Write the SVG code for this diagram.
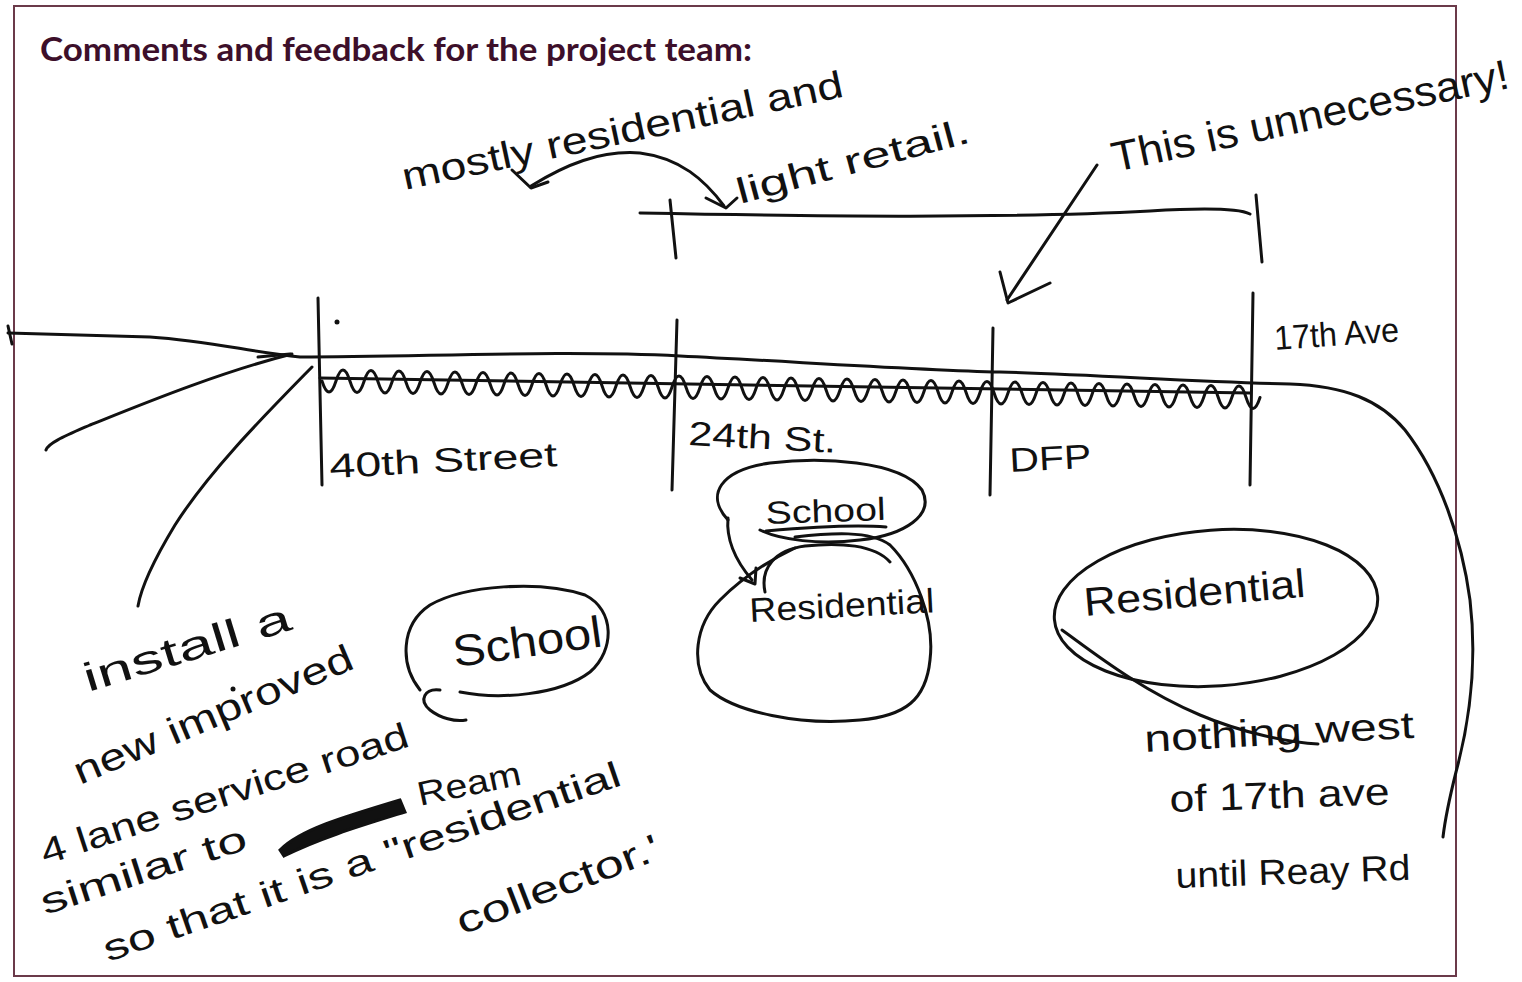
<svg xmlns="http://www.w3.org/2000/svg" width="1522" height="982" viewBox="0 0 1522 982">
<style>
.ink{fill:none;stroke:#111;stroke-width:3;stroke-linecap:round;stroke-linejoin:round}
.hw{font-family:"Liberation Sans","DejaVu Sans",sans-serif;fill:#111}
.title{font-family:Lato,"Open Sans","Liberation Sans",sans-serif;font-weight:bold;font-size:33px;fill:#3d0f2a}
</style>
<rect x="0" y="0" width="1522" height="982" fill="#ffffff"/>
<rect x="14" y="6" width="1442" height="970" fill="none" stroke="#6b3a4a" stroke-width="2"/>
<text class="title" x="40" y="61" textLength="712" lengthAdjust="spacingAndGlyphs">Comments and feedback for the project team:</text>

<g id="connectors">
  <!-- road line -->
  <path class="ink" d="M8,333 L150,337 C210,341 250,352 300,357 C420,357 560,350 680,356 C800,362 920,370 1000,372 C1100,375 1200,382 1290,384 C1345,386 1380,400 1405,430 C1440,475 1462,540 1470,600 C1477,660 1470,720 1456,772 C1449,800 1445,820 1443,837"/>
  <path class="ink" d="M8,326 L12,344"/>
  <!-- squiggle under road -->
  <path class="ink" stroke-width="2.6" d="M320,378 L1250,393"/>
  <path class="ink" stroke-width="2.8" d="M322,381 q7,22 14,0 t14,0.25 t14,0.25 t14,0.25 t14,0.25 t14,0.25 t14,0.25 t14,0.25 t14,0.25 t14,0.25 t14,0.25 t14,0.25 t14,0.25 t14,0.25 t14,0.25 t14,0.25 t14,0.25 t14,0.25 t14,0.25 t14,0.25 t14,0.25 t14,0.25 t14,0.25 t14,0.25 t14,0.25 t14,0.25 t14,0.25 t14,0.25 t14,0.25 t14,0.25 t14,0.25 t14,0.25 t14,0.25 t14,0.25 t14,0.25 t14,0.25 t14,0.25 t14,0.25 t14,0.25 t14,0.25 t14,0.25 t14,0.25 t14,0.25 t14,0.25 t14,0.25 t14,0.25 t14,0.25 t14,0.25 t14,0.25 t14,0.25 t14,0.25 t14,0.25 t14,0.25 t14,0.25 t14,0.25 t14,0.25 t14,0.25 t14,0.25 t14,0.25 t14,0.25 t14,0.25 t14,0.25 t14,0.25 t14,0.25 t14,0.25 t14,0.25 t14,0.25"/>
  <!-- cross streets -->
  <path class="ink" d="M318,298 L322,485"/>
  <path class="ink" d="M677,320 L672,490"/>
  <path class="ink" d="M993,328 L990,495"/>
  <path class="ink" d="M1253,293 L1250,485"/>
  <!-- top bracket -->
  <path class="ink" d="M640,213 C800,216 1000,219 1150,211 C1200,208 1238,208 1250,214"/>
  <path class="ink" d="M670,200 L676,258"/>
  <path class="ink" d="M1256,195 L1262,262"/>
  <!-- mostly residential arrows -->
  <path class="ink" d="M531,186 C565,165 600,150 640,153 C680,158 705,180 724,206"/>
  <path class="ink" d="M512,170 L531,188 L548,182"/>
  <path class="ink" d="M706,198 L726,208 L737,198"/>
  <!-- this is unnecessary arrow -->
  <path class="ink" d="M1097,165 L1007,300"/>
  <path class="ink" d="M1000,272 L1008,303 L1050,283"/>
  <!-- left arrows -->
  <path class="ink" d="M292,354 C220,372 140,405 90,425 C65,436 48,443 46,450"/>
  <path class="ink" stroke-width="5" d="M258,357 L290,354"/>
  <path class="ink" d="M312,367 C265,415 210,470 175,525 C152,563 141,588 138,606"/>
  <circle cx="337" cy="322" r="2.5" fill="#111"/>
  <circle cx="233" cy="689" r="2.5" fill="#111"/>
  <!-- middle school to residential arrow -->
  <path class="ink" d="M728,518 C726,540 735,560 752,580"/>
  <path class="ink" d="M740,578 L755,584 L756,568"/>
  <!-- right residential tail -->
  <path class="ink" d="M1062,630 C1090,650 1140,690 1200,715 C1240,732 1290,743 1318,744"/>
</g>

<g id="node-school-left">
  <path class="ink" d="M420,690 C400,665 400,625 430,605 C465,585 540,580 585,595 C615,610 615,650 590,672 C560,695 500,700 460,692"/>
  <path class="ink" d="M440,690 C425,688 418,700 430,710 C440,718 455,722 466,720"/>
  <text class="hw" font-size="44" transform="translate(455,667) rotate(-8)" textLength="150" lengthAdjust="spacingAndGlyphs">School</text>
</g>

<g id="node-school-mid">
  <path class="ink" d="M728,520 C705,495 720,470 770,463 C820,457 900,460 922,490 C935,515 905,535 860,540 C820,545 780,540 760,530"/>
  <text class="hw" font-size="32" transform="translate(766,524) rotate(-2)" textLength="120" lengthAdjust="spacingAndGlyphs">School</text>
  <path class="ink" d="M766,531 C800,528 850,524 886,527"/>
</g>

<g id="node-residential-mid">
  <path class="ink" d="M795,537 C830,533 870,530 890,545 C915,570 935,620 930,660 C926,700 905,716 860,720 C800,726 735,712 710,690 C690,665 695,625 720,600 C745,575 770,560 795,548"/>
  <path class="ink" d="M765,592 C760,568 775,550 805,546 C840,542 875,545 890,562"/>
  <text class="hw" font-size="34" transform="translate(750,622) rotate(-3)" textLength="185" lengthAdjust="spacingAndGlyphs">Residential</text>
</g>

<g id="node-residential-right">
  <ellipse class="ink" cx="1216" cy="608" rx="162" ry="78" transform="rotate(-4 1216 608)"/>
  <text class="hw" font-size="40" transform="translate(1085,616) rotate(-5)" textLength="222" lengthAdjust="spacingAndGlyphs">Residential</text>
</g>

<g id="labels">
  <text class="hw" font-size="38" transform="translate(405,190) rotate(-12)" textLength="450" lengthAdjust="spacingAndGlyphs">mostly residential and</text>
  <text class="hw" font-size="36" transform="translate(740,204) rotate(-15)" textLength="240" lengthAdjust="spacingAndGlyphs">light retail.</text>
  <text class="hw" font-size="42" transform="translate(1115,172) rotate(-12)" textLength="405" lengthAdjust="spacingAndGlyphs">This is unnecessary!</text>
  <text class="hw" font-size="34" transform="translate(1275,350) rotate(-4)" textLength="125" lengthAdjust="spacingAndGlyphs">17th Ave</text>
  <text class="hw" font-size="34" transform="translate(330,478) rotate(-3)" textLength="228" lengthAdjust="spacingAndGlyphs">40th Street</text>
  <text class="hw" font-size="34" transform="translate(688,445) rotate(3)" textLength="148" lengthAdjust="spacingAndGlyphs">24th St.</text>
  <text class="hw" font-size="34" transform="translate(1010,472) rotate(-3)" textLength="82" lengthAdjust="spacingAndGlyphs">DFP</text>
  <text class="hw" font-size="40" transform="translate(88,692) rotate(-17)" textLength="215" lengthAdjust="spacingAndGlyphs">install a</text>
  <text class="hw" font-size="38" transform="translate(80,785) rotate(-23)" textLength="300" lengthAdjust="spacingAndGlyphs">new improved</text>
  <text class="hw" font-size="36" transform="translate(45,865) rotate(-18)" textLength="385" lengthAdjust="spacingAndGlyphs">4 lane service road</text>
  <text class="hw" font-size="36" transform="translate(45,915) rotate(-18)" textLength="215" lengthAdjust="spacingAndGlyphs">similar to</text>
  <path fill="#111" stroke="#111" stroke-width="3" d="M280,850 C300,830 340,818 400,800 L405,812 C360,826 320,838 284,856 Z"/>
  <text class="hw" font-size="34" transform="translate(420,806) rotate(-12)" textLength="105" lengthAdjust="spacingAndGlyphs">Ream</text>
  <text class="hw" font-size="36" transform="translate(108,962) rotate(-19)" textLength="545" lengthAdjust="spacingAndGlyphs">so that it is a "residential</text>
  <text class="hw" font-size="38" transform="translate(462,935) rotate(-21)" textLength="215" lengthAdjust="spacingAndGlyphs">collector.'</text>
  <text class="hw" font-size="38" transform="translate(1145,752) rotate(-3)" textLength="270" lengthAdjust="spacingAndGlyphs">nothing west</text>
  <text class="hw" font-size="38" transform="translate(1170,812) rotate(-2)" textLength="220" lengthAdjust="spacingAndGlyphs">of 17th ave</text>
  <text class="hw" font-size="36" transform="translate(1176,888) rotate(-2)" textLength="235" lengthAdjust="spacingAndGlyphs">until Reay Rd</text>
</g>
</svg>
